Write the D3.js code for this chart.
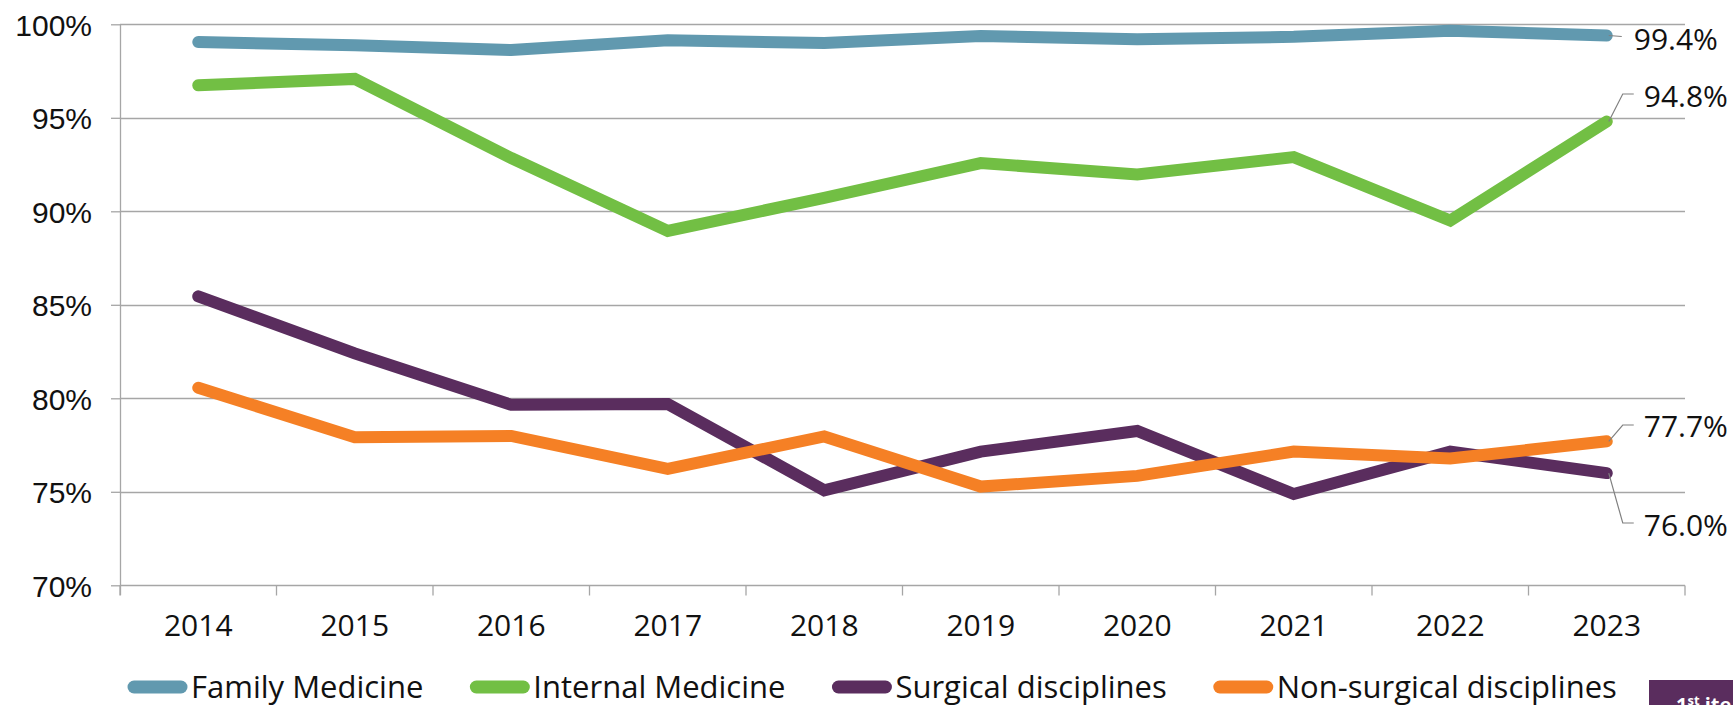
<!DOCTYPE html>
<html>
<head>
<meta charset="utf-8">
<script src="https://cdn.jsdelivr.net/npm/d3@7"></script>
<style>
  body { margin: 0; background: #fff; }
  svg { display: block; font-family: "Open Sans", "Noto Sans", sans-serif; }
</style>
</head>
<body>
<div id="chart"></div>
<script>
// Years on the x axis.
var years = ["2014", "2015", "2016", "2017", "2018", "2019", "2020", "2021", "2022", "2023"];

// Series values, in percent.
var familyMedicine = [99.05, 98.88, 98.62, 99.15, 99.0, 99.37, 99.2, 99.33, 99.65, 99.4];
var internalMedicine = [96.74, 97.08, 92.85, 88.95, 90.72, 92.58, 91.97, 92.9, 89.5, 94.8];
var surgicalDisciplines = [85.45, 82.4, 79.65, 79.7, 75.08, 77.15, 78.25, 74.88, 77.15, 76.0];
var nonSurgicalDisciplines = [80.56, 77.92, 77.99, 76.22, 77.96, 75.28, 75.85, 77.15, 76.78, 77.7];

// Y axis tick values.
var yTicks = [70, 75, 80, 85, 90, 95, 100];

var seriesNames = ["Family Medicine", "Internal Medicine", "Surgical disciplines", "Non-surgical disciplines"];
var seriesColors = ["#6199af", "#72bf44", "#5a2d5e", "#f58025"];

var series = [familyMedicine, internalMedicine, surgicalDisciplines, nonSurgicalDisciplines]
  .map(function(values, i) {
    return { name: seriesNames[i], color: seriesColors[i], values: values };
  });

// Dimensions.
var width = 1733, height = 705;
var m = { top: 24, right: 48, bottom: 120, left: 120 };
var fontSize = 30;

var svg = d3.select("#chart").append("svg")
    .attr("width", width)
    .attr("height", height);

var x = d3.scaleBand()
    .domain(years)
    .range([m.left, width - m.right]);

var y = d3.scaleLinear()
    .domain([70, 100])
    .range([height - m.bottom + 0.3, m.top + 0.3]);

function cx(d, i) { return x(years[i]) + x.bandwidth() / 2; }

// Gridlines.
svg.append("g")
    .selectAll("line")
    .data(yTicks.slice(1))
    .enter().append("line")
    .attr("x1", m.left)
    .attr("x2", width - m.right)
    .attr("y1", function(d) { return Math.round(y(d)) + 0.5; })
    .attr("y2", function(d) { return Math.round(y(d)) + 0.5; })
    .style("stroke", "#a6a6a6")
    .style("stroke-width", 1.3);

// Y axis: vertical line, ticks to the left, labels.
var yAxis = svg.append("g")
    .attr("transform", "translate(" + m.left + ",0)")
    .call(d3.axisLeft(y)
      .tickValues(yTicks)
      .tickSize(9)
      .tickSizeOuter(0)
      .tickPadding(19)
      .tickFormat(function(d) { return d + "%"; }));
yAxis.select(".domain").remove();
yAxis.append("line")
    .attr("x1", 0.5).attr("x2", 0.5)
    .attr("y1", y(100)).attr("y2", y(70) + 10);

// X axis with ticks at band boundaries.
var xAxis = svg.append("g")
    .attr("transform", "translate(0," + (Math.round(y(70)) + 0.5) + ")");
xAxis.append("line")
    .attr("x1", m.left).attr("x2", width - m.right);
xAxis.selectAll(".tk")
    .data(years.concat(["end"]))
    .enter().append("line")
    .attr("class", "tk")
    .attr("x1", function(d, i) { return m.left + i * x.bandwidth(); })
    .attr("x2", function(d, i) { return m.left + i * x.bandwidth(); })
    .attr("y1", 0).attr("y2", 10);
xAxis.selectAll("text")
    .data(years)
    .enter().append("text")
    .attr("x", function(d) { return x(d) + x.bandwidth() / 2; })
    .attr("y", 50)
    .attr("text-anchor", "middle")
    .text(function(d) { return d; });

svg.selectAll("g line")
    .style("stroke", "#a6a6a6")
    .style("stroke-width", 1.3);
svg.selectAll("g text")
    .style("font-size", fontSize + "px")
    .style("fill", "#111");
yAxis.selectAll(".tick text").attr("dy", "0.36em");

// Lines.
var line = d3.line()
    .x(cx)
    .y(function(d) { return y(d); });

svg.append("g")
    .selectAll("path")
    .data(series)
    .enter().append("path")
    .attr("d", function(s) { return line(s.values); })
    .style("fill", "none")
    .style("stroke", function(s) { return s.color; })
    .style("stroke-width", 12)
    .style("stroke-linecap", "round")
    .style("stroke-linejoin", "miter");

// End labels with leader lines: label y positions and leader bends.
var lastX = cx(null, years.length - 1);
var endLabels = [
  { s: 0, ty: 39, bend: [lastX + 15, y(99.4) + 1], tx: lastX + 27 },
  { s: 1, ty: 96, bend: [lastX + 16, 94], tx: lastX + 37 },
  { s: 3, ty: 426, bend: [lastX + 16, 425], tx: lastX + 37 },
  { s: 2, ty: 525, bend: [lastX + 16, 523], tx: lastX + 37 }
];

var labels = svg.append("g");
endLabels.forEach(function(l) {
  var v = series[l.s].values[years.length - 1];
  var pts = [[lastX + 2, y(v)], l.bend];
  if (l.s !== 0) pts.push([lastX + 27, l.bend[1]]);
  labels.append("path")
      .attr("d", d3.line()(pts))
      .style("fill", "none")
      .style("stroke", "#808080")
      .style("stroke-width", 1.2);
  labels.append("text")
      .attr("x", l.tx)
      .attr("y", l.ty)
      .attr("dy", "0.36em")
      .style("font-size", fontSize + "px")
      .style("fill", "#111")
      .text(v.toFixed(1) + "%");
});

// Legend.
var legend = svg.append("g")
    .attr("transform", "translate(0,687)");
var lx = 134;
series.forEach(function(s) {
  legend.append("line")
      .attr("x1", lx).attr("x2", lx + 47)
      .attr("y1", 0).attr("y2", 0)
      .style("stroke", s.color)
      .style("stroke-width", 13)
      .style("stroke-linecap", "round");
  var t = legend.append("text")
      .attr("x", lx + 57)
      .attr("y", 0)
      .attr("dy", "0.36em")
      .style("font-size", "31px")
      .style("fill", "#111")
      .text(s.name);
  lx += 57 + t.node().getComputedTextLength() + 53;
});

// Cropped badge at the bottom right corner.
svg.append("rect")
    .attr("x", 1649).attr("y", 680)
    .attr("width", 84).attr("height", 25)
    .style("fill", "#5a2d5e");
var badge = svg.append("text")
    .attr("x", 1676).attr("y", 712)
    .style("font-size", "20px")
    .style("font-weight", "bold")
    .style("fill", "#fff")
    .text("1");
badge.append("tspan").attr("dy", -7).style("font-size", "13px").text("st");
badge.append("tspan").attr("dy", 7).text(" ite");
</script>
</body>
</html>
